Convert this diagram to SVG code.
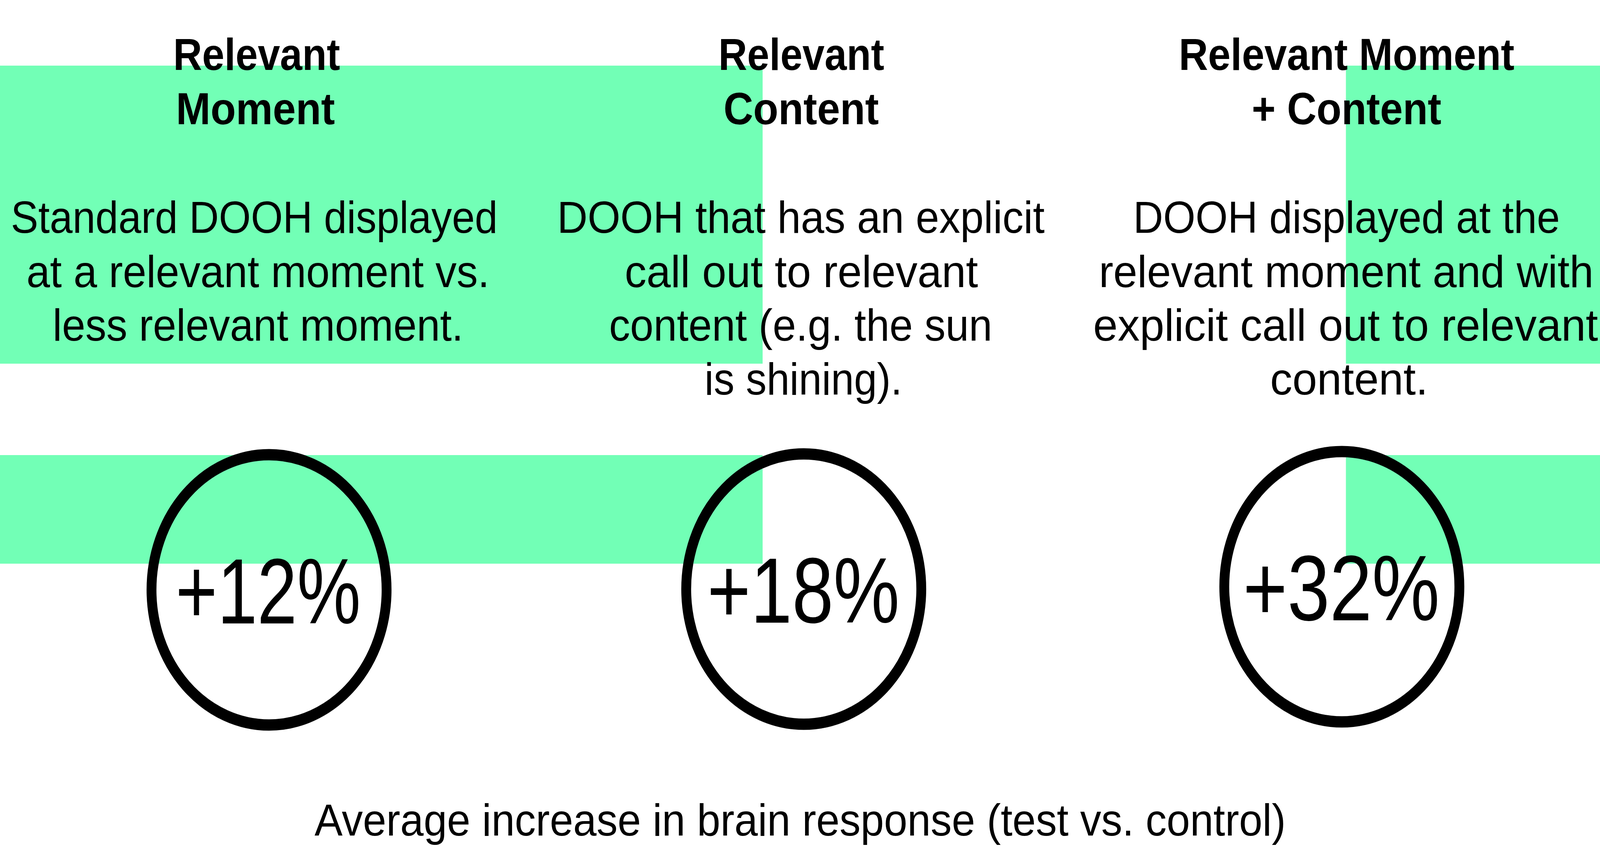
<svg xmlns="http://www.w3.org/2000/svg" width="4710" height="2176" viewBox="0 0 4710 2176" preserveAspectRatio="none">
<style>
svg{width:100vw;height:100vh}
.band{fill:#72FFB6}
text{font-family:"Liberation Sans",Arial,sans-serif;fill:#000}
.t{font-size:115px;font-weight:700}
.b{font-size:115px;font-weight:400}
.p{font-size:237px;font-weight:400}
.ring{fill:none;stroke:#000;stroke-width:29}
</style>
<rect width="4710" height="2176" fill="#fff"/>
<g id="background">
<rect class="band" x="0" y="168" width="2245" height="763"/>
<rect class="band" x="3962" y="168" width="748" height="763"/>
<rect class="band" x="0" y="1165" width="2245" height="278"/>
<rect class="band" x="3962" y="1165" width="748" height="278"/>
</g>
<g id="connectors"></g>
<g id="relevant-moment">
<text class="t" x="510" y="179" textLength="491" lengthAdjust="spacingAndGlyphs">Relevant</text>
<text class="t" x="518" y="318" textLength="468" lengthAdjust="spacingAndGlyphs">Moment</text>
<text class="b" x="32" y="596" textLength="1433" lengthAdjust="spacingAndGlyphs">Standard DOOH displayed</text>
<text class="b" x="78" y="735" textLength="1363" lengthAdjust="spacingAndGlyphs">at a relevant moment vs.</text>
<text class="b" x="155" y="872" textLength="1209" lengthAdjust="spacingAndGlyphs">less relevant moment.</text>
</g>
<g id="relevant-content">
<text class="t" x="2115" y="179" textLength="488" lengthAdjust="spacingAndGlyphs">Relevant</text>
<text class="t" x="2130" y="318" textLength="457" lengthAdjust="spacingAndGlyphs">Content</text>
<text class="b" x="1640" y="596" textLength="1435" lengthAdjust="spacingAndGlyphs">DOOH that has an explicit</text>
<text class="b" x="1839" y="735" textLength="1040" lengthAdjust="spacingAndGlyphs">call out to relevant</text>
<text class="b" x="1793" y="872" textLength="1128" lengthAdjust="spacingAndGlyphs">content (e.g. the sun</text>
<text class="b" x="2074" y="1010" textLength="582" lengthAdjust="spacingAndGlyphs">is shining).</text>
</g>
<g id="relevant-moment-content">
<text class="t" x="3470" y="179" textLength="988" lengthAdjust="spacingAndGlyphs">Relevant Moment</text>
<text class="t" x="3685" y="318" textLength="558" lengthAdjust="spacingAndGlyphs">+ Content</text>
<text class="b" x="3336" y="596" textLength="1256" lengthAdjust="spacingAndGlyphs">DOOH displayed at the</text>
<text class="b" x="3235" y="735" textLength="1456" lengthAdjust="spacingAndGlyphs">relevant moment and with</text>
<text class="b" x="3218" y="872" textLength="1486" lengthAdjust="spacingAndGlyphs">explicit call out to relevant</text>
<text class="b" x="3739" y="1010" textLength="465" lengthAdjust="spacingAndGlyphs">content.</text>
</g>
<g id="metric-12">
<circle class="ring" cx="792" cy="1510" r="346"/>
<text class="p" x="517" y="1596" textLength="545" lengthAdjust="spacingAndGlyphs">+12%</text>
</g>
<g id="metric-18">
<circle class="ring" cx="2366" cy="1508" r="346"/>
<text class="p" x="2082" y="1594" textLength="566" lengthAdjust="spacingAndGlyphs">+18%</text>
</g>
<g id="metric-32">
<circle class="ring" cx="3950" cy="1502" r="346"/>
<text class="p" x="3659" y="1588" textLength="579" lengthAdjust="spacingAndGlyphs">+32%</text>
</g>
<g id="caption">
<text class="b" x="926" y="2139" textLength="2859" lengthAdjust="spacingAndGlyphs">Average increase in brain response (test vs. control)</text>
</g>
</svg>
